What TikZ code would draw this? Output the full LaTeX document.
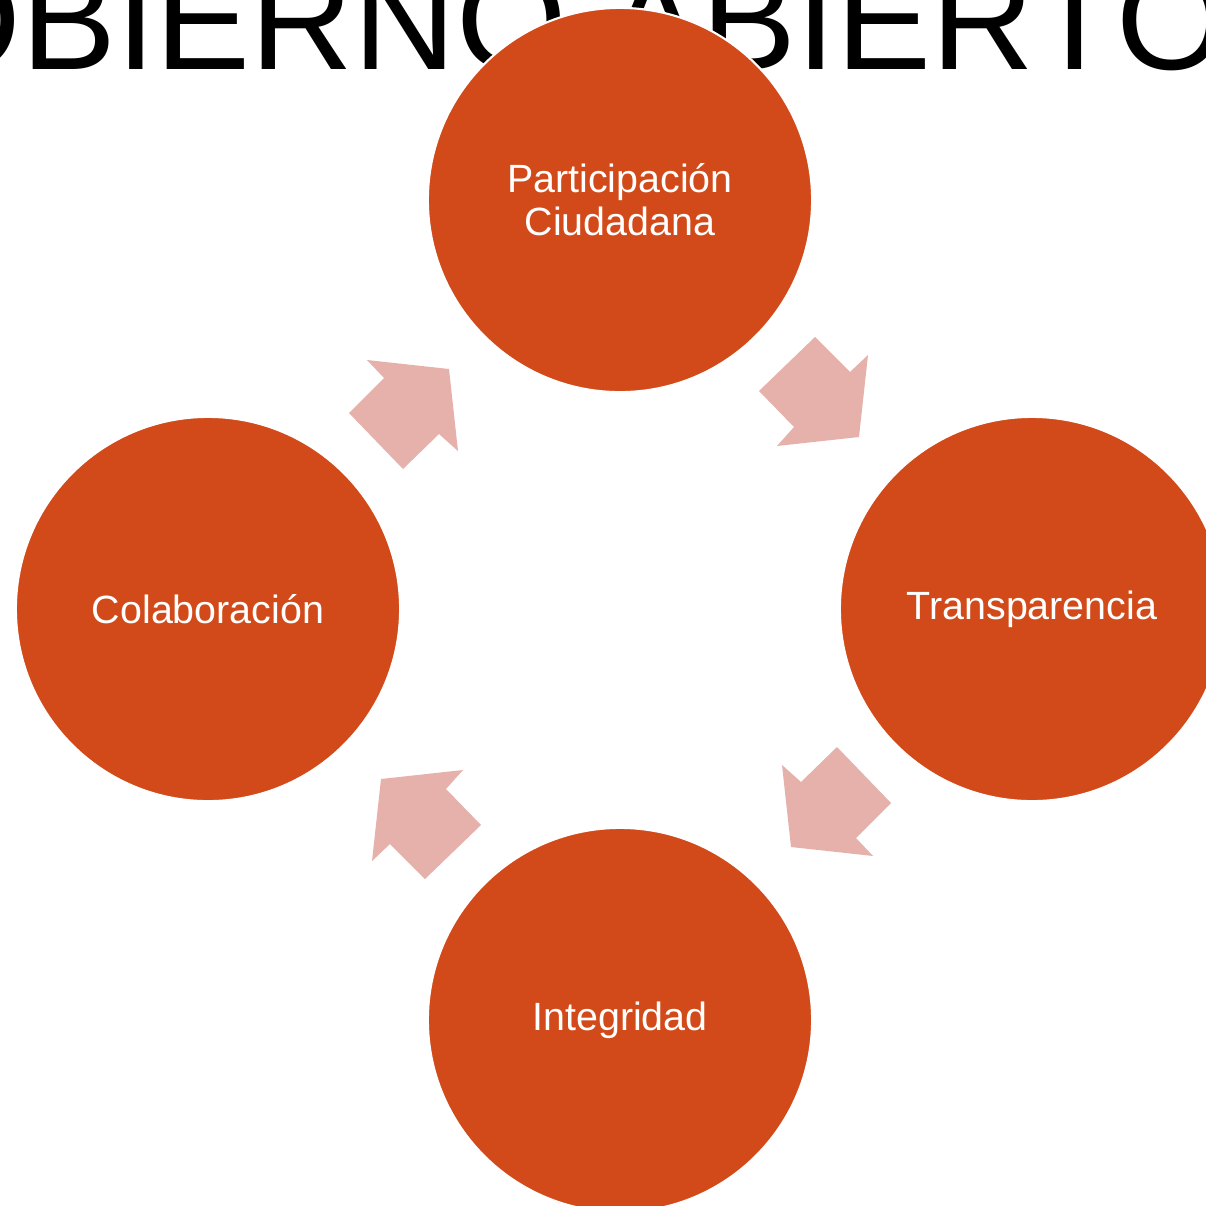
\documentclass[tikz,border=0pt]{standalone}
\usepackage{fontspec}
\setmainfont{Liberation Sans}
\definecolor{circfill}{HTML}{D24A19}
\definecolor{arrowfill}{HTML}{E5B1AA}
\tikzset{
  cyclenode/.style={circle, fill=circfill, draw=white, line width=0.6pt,
    minimum size=3.84cm, inner sep=0pt, text=white, align=center,
    font=\fontsize{11.2}{12.3}\selectfont},
  blockarrow/.style={fill=arrowfill, draw=none},
  titletext/.style={anchor=base west, inner sep=0pt, text=black,
    font=\fontsize{40.5}{48}\selectfont}
}
\begin{document}
\begin{tikzpicture}[x=0.01cm, y=-0.01cm]
\useasboundingbox (0,0) rectangle (1206,1206);
\clip (0,0) rectangle (1206,1206);
\fill[white] (0,0) rectangle (1206,1206);
% title
\node[titletext] (title) at (-201,70) {GOBIERNO ABIERTO};
% arrows
\coordinate (c) at (620,608);
\begin{scope}[shift={(c)}]
\fill[blockarrow] (-171,-239) -- (-253,-248) -- (-236,-230) -- (-271,-195) -- (-217,-139) -- (-181,-174) -- (-162,-157) -- cycle;
\fill[blockarrow] (239,-171) -- (248,-253) -- (230,-236) -- (195,-271) -- (139,-217) -- (174,-181) -- (157,-162) -- cycle;
\fill[blockarrow] (171,239) -- (253,248) -- (236,230) -- (271,195) -- (217,139) -- (181,174) -- (162,157) -- cycle;
\fill[blockarrow] (-239,171) -- (-248,253) -- (-230,236) -- (-195,271) -- (-139,217) -- (-174,181) -- (-157,162) -- cycle;
\end{scope}
% circles
\node[cyclenode] (part) at (620,200) {Participación\\Ciudadana};
\node[cyclenode] (trans) at (1032,609) {Transparencia};
\node[cyclenode] (integ) at (620,1020) {Integridad};
\node[cyclenode] (colab) at (208,609) {Colaboración};
\end{tikzpicture}
\end{document}
